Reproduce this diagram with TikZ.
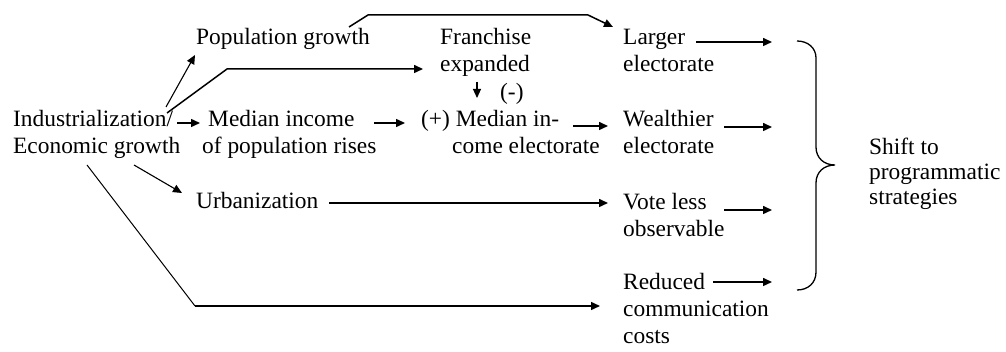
\documentclass[tikz,border=0pt]{standalone}
\usepackage{fontspec}
\setmainfont{Liberation Serif}
\usetikzlibrary{arrows.meta,calc}
\newcommand\blockL[2][27pt]{\vtop{\baselineskip=#1\relax\lineskiplimit=-100pt\halign{##\hfil\cr#2\crcr}}}
\begin{document}
\begin{tikzpicture}[x=1pt,y=-1pt,
  txt/.style={inner sep=0pt,anchor=base west,font=\fontsize{23.4}{27}\selectfont},
  arr/.style={line width=1.5pt,-{Triangle[length=9pt,width=8pt]}},
  thinarr/.style={line width=1.1pt,-{Triangle[length=9pt,width=8pt]}},
  bracestyle/.style={line width=1.3pt}]
\useasboundingbox (0,0) rectangle (1006,352);
\fill[white] (0,0) rectangle (1006,352);
% texts
\node[txt] (ind) at (13,127) {\blockL{Industrialization/\cr Economic growth}};
\node[txt] (pop) at (196,45) {Population growth};
\node[txt] (med) at (202,127) {\blockL{\hskip6pt Median income\cr of population rises}};
\node[txt] (fra) at (440,45) {\blockL{Franchise\cr expanded}};
\node[txt] (minus) at (500,100) {(-)};
\node[txt] (mie) at (421,127) {\blockL{(+) Median in-\cr\hskip31pt come electorate}};
\node[txt] (lar) at (623,45) {\blockL{Larger\cr electorate}};
\node[txt] (wea) at (623,127) {\blockL{Wealthier\cr electorate}};
\node[txt] (urb) at (196,209) {Urbanization};
\node[txt] (vot) at (623,210) {\blockL{Vote less\cr observable}};
\node[txt] (red) at (623,290) {\blockL{Reduced\cr communication\cr costs}};
\node[txt] (shi) at (869,155) {\blockL[25pt]{Shift to\cr programmatic\cr strategies}};
% connectors
\draw[thinarr] ($(ind.base west)+(153,-20)$) -- ($(pop.base west)+(-1,10)$);
\draw[arr] ($(ind.base west)+(154,-14)$) -- ($(fra.base west)+(-213,24)$) -- ($(fra.base west)+(-17,24)$);
\draw[arr] ($(ind.base west)+(164,-4)$) -- ($(med.base west)+(-2,-4)$);
\draw[arr] ($(med.base west)+(172,-4)$) -- ($(mie.base west)+(-16,-4)$);
\draw[thinarr] ($(fra.base west)+(37,37)$) -- ($(mie.base west)+(56,-29)$);
\draw[arr] ($(pop.base west)+(153,-18)$) -- ($(pop.base west)+(172,-30)$) -- ($(lar.base west)+(-35,-30)$) -- ($(lar.base west)+(-10,-18)$);
\draw[arr] ($(mie.base west)+(152,-1)$) -- ($(wea.base west)+(-15,-1)$);
\draw[thinarr] ($(ind.base west)+(121,38)$) -- ($(urb.base west)+(-14,-16)$);
\draw[arr] ($(urb.base west)+(133,-6)$) -- ($(vot.base west)+(-15,-7)$);
\draw[line width=1.0pt] ($(ind.base west)+(74,38)$) -- ($(red.base west)+(-428,16)$);
\draw[arr] ($(red.base west)+(-428,16)$) -- ($(red.base west)+(-23,16)$);
% arrows toward brace
\coordinate (b1) at (772,42);
\coordinate (b2) at (772,127);
\coordinate (b3) at (772,210);
\coordinate (b4) at (772,282);
\draw[arr] ($(lar.base west)+(73,-3)$) -- (b1);
\draw[arr] ($(wea.base west)+(101,0)$) -- (b2);
\draw[arr] ($(vot.base west)+(101,0)$) -- (b3);
\draw[arr] ($(red.base west)+(90,-8)$) -- (b4);
% brace
\draw[bracestyle] (797,41) .. controls (808,41) and (816,48) .. (816,58) -- (816,147)
  .. controls (816,158) and (824,165) .. (835,165)
  .. controls (824,165) and (816,172) .. (816,183) -- (816,272)
  .. controls (816,283) and (808,290) .. (797,290);
\end{tikzpicture}
\end{document}
